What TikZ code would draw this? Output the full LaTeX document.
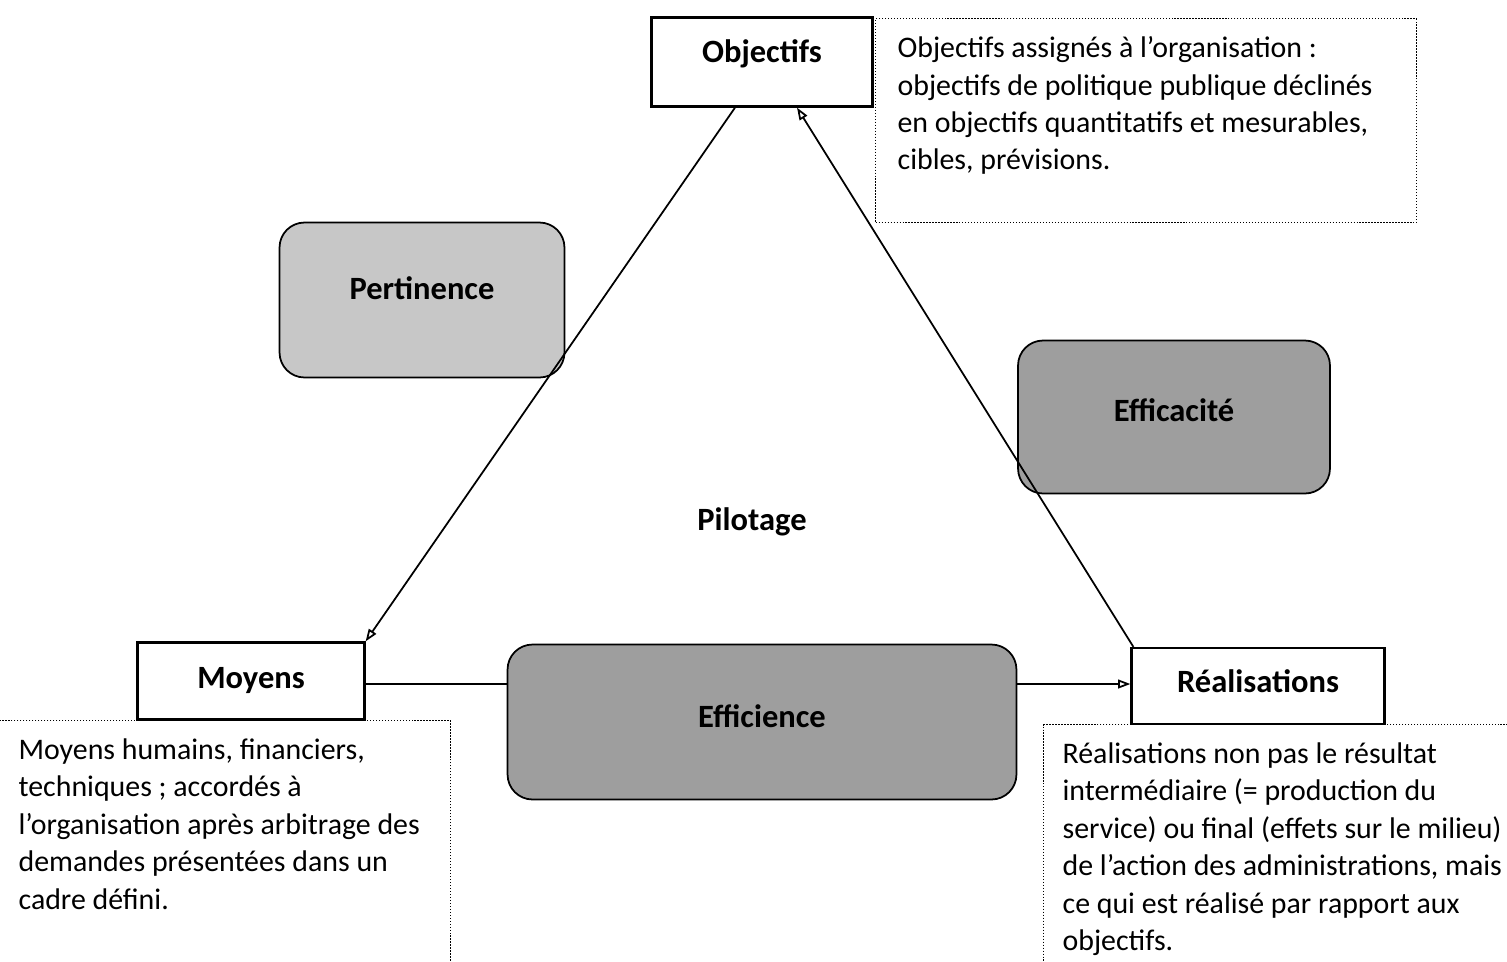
\documentclass[tikz,border=0pt]{standalone}
\usepackage{fontspec}
\setmainfont{Carlito}
\usetikzlibrary{arrows.meta}

\tikzset{
  cadre/.style={draw, line width=1.3pt, fill=white, font=\fontsize{18.5}{22}\selectfont\bfseries},
  bulle/.style={draw, line width=1pt, rounded corners=0.5cm, font=\fontsize{18.5}{22}\selectfont\bfseries},
  note/.style={draw, densely dotted, line width=0.7pt, anchor=north west, inner ysep=0.36cm, font=\fontsize{17}{21.3}\selectfont},
  fleche/.style={line width=1pt, -{Triangle[open, length=7pt, width=5pt]}}
}

\begin{document}
\begin{tikzpicture}[x=0.02cm, y=-0.02cm]
\useasboundingbox (0,0) rectangle (1507,961);
\clip (0,0) rectangle (1507,961);
\node[note, inner xsep=0.44cm] (objtxt) at (875,18) {\parbox[c][3.36cm][t]{9.94cm}{\raggedright Objectifs assignés à l’organisation :\\ objectifs de politique publique déclinés\\ en objectifs quantitatifs et mesurables,\\ cibles, prévisions.}};
\node[note, inner xsep=0.56cm] (moytxt) at (-10,720) {\parbox[c][4.5cm][t]{8.08cm}{\raggedright Moyens humains, financiers,\\ techniques ; accordés à\\ l’organisation après arbitrage des\\ demandes présentées dans un\\ cadre défini.}};
\node[note, inner xsep=0.38cm] (realtxt) at (1043,724) {\parbox[c][4.3cm][t]{8.84cm}{\raggedright Réalisations non pas le résultat\\ intermédiaire (= production du\\ service) ou final (effets sur le milieu)\\ de l’action des administrations, mais\\ ce qui est réalisé par rapport aux\\ objectifs.}};
\node[bulle, fill=black!22, minimum width=5.7cm, minimum height=3.1cm] (pert) at (422,300) {\raisebox{0.48cm}{Pertinence}};
\node[bulle, fill=black!38, minimum width=6.24cm, minimum height=3.06cm] (effc) at (1174,417) {\raisebox{0.26cm}{Efficacité}};
\node[cadre, minimum width=4.42cm, minimum height=1.78cm] (obj) at (762,62) {\raisebox{0.42cm}{Objectifs}};
\node[cadre, minimum width=4.54cm, minimum height=1.54cm] (moy) at (251,681) {\raisebox{0.14cm}{Moyens}};
\node[cadre, minimum width=5.06cm, minimum height=1.52cm] (real) at (1258,686) {\raisebox{0.18cm}{Réalisations}};
\node[font=\fontsize{18.5}{22}\selectfont\bfseries] (pil) at (752,522) {Pilotage};
\draw[fleche] ([xshift=-0.54cm]obj.south) -- (moy.north east);
\draw[fleche] ([xshift=0.06cm]real.north west) -- ([xshift=0.7cm]obj.south);
\draw[fleche] ([yshift=-0.06cm]moy.east) -- ([yshift=-0.06cm]moy.east -| real.west);
\node[bulle, fill=black!38, minimum width=10.18cm, minimum height=3.1cm] (effi) at (762,722) {\raisebox{0.22cm}{Efficience}};
\end{tikzpicture}
\end{document}
